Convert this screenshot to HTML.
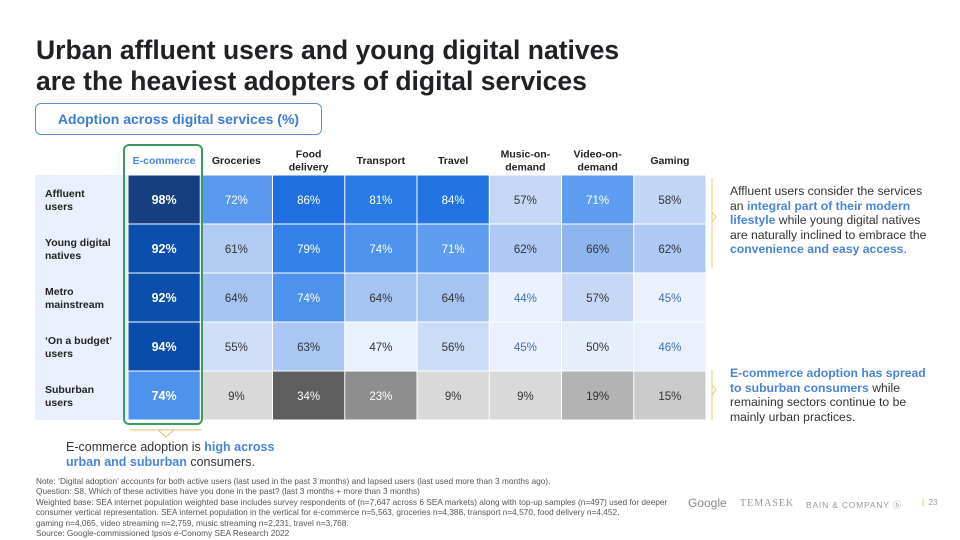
<!DOCTYPE html>
<html><head><meta charset="utf-8">
<style>
body{margin:0;width:960px;height:540px;background:#fff;font-family:"Liberation Sans",sans-serif;position:relative;overflow:hidden;color:#202124}
.t{position:absolute}
h1{position:absolute;left:36px;top:35px;margin:0;font-size:26.5px;line-height:31px;font-weight:bold;color:#202124;letter-spacing:0px}
.sub{position:absolute;left:35px;top:103px;width:287px;height:32px;border:1px solid #5b8fd6;border-radius:6px;box-sizing:border-box;color:#3d7ad6;font-weight:bold;font-size:14px;line-height:30px;text-align:center}
.note{position:absolute;left:36px;top:476px;font-size:8.3px;line-height:10.4px;color:#555;white-space:nowrap}
.side{position:absolute;left:730px;font-size:12.2px;line-height:14.6px;color:#333;width:205px}
.b{color:#4a84d8;font-weight:bold}
</style></head><body>
<h1>Urban affluent users and young digital natives<br>are the heaviest adopters of digital services</h1>
<div class="sub">Adoption across digital services (%)</div>
<svg id="chart" width="960" height="540" style="position:absolute;left:0;top:0"></svg>
<div class="side" style="top:184px">Affluent users consider the services an <span class="b">integral part of their modern lifestyle</span> while young digital natives are naturally inclined to embrace the <span class="b">convenience and easy access</span>.</div>
<div class="side" style="top:366px"><span class="b">E-commerce adoption has spread to suburban consumers</span> while remaining sectors continue to be mainly urban practices.</div>
<div class="t" style="left:66px;top:440px;font-size:12.5px;line-height:15px;color:#333">E-commerce adoption is <span class="b">high across<br>urban and suburban</span> consumers.</div>
<div class="note">Note: ‘Digital adoption’ accounts for both active users (last used in the past 3 months) and lapsed users (last used more than 3 months ago).<br>Question: S8. Which of these activities have you done in the past? (last 3 months + more than 3 months)<br>Weighted base: SEA internet population weighted base includes survey respondents of (n=7,647 across 6 SEA markets) along with top-up samples (n=497) used for deeper<br>consumer vertical representation. SEA internet population in the vertical for e-commerce n=5,563, groceries n=4,388, transport n=4,570, food delivery n=4,452,<br>gaming n=4,065, video streaming n=2,759, music streaming n=2,231, travel n=3,768.<br>Source: Google-commissioned Ipsos e-Conomy SEA Research 2022</div>
<div class="t" style="left:688px;top:496px;font-size:12px;color:#888">Google</div>
<div class="t" style="left:740px;top:498px;font-size:10px;color:#999;font-family:'Liberation Serif',serif;letter-spacing:1px">TEMASEK</div>
<div class="t" style="left:806px;top:499px;font-size:8.5px;color:#999;letter-spacing:0.8px">BAIN &amp; COMPANY ⓑ</div>
<div class="t" style="left:922px;top:498px;font-size:8px;color:#999"><span style="color:#e0b400">|</span>&nbsp; 23</div>
<script>
const categories=["E-commerce","Groceries","Food\ndelivery","Transport","Travel","Music-on-\ndemand","Video-on-\ndemand","Gaming"];
const segments=["Affluent\nusers","Young digital\nnatives","Metro\nmainstream","‘On a budget’\nusers","Suburban\nusers"];
const affluent=[98,72,86,81,84,57,71,58];
const youngNatives=[92,61,79,74,71,62,66,62];
const metroMainstream=[92,64,74,64,64,44,57,45];
const onABudget=[94,55,63,47,56,45,50,46];
const suburban=[74,9,34,23,9,9,19,15];
const series=[affluent,youngNatives,metroMainstream,onABudget,suburban];

const NS="http://www.w3.org/2000/svg";
const svg=document.getElementById('chart');
const X0=128,CW=72.25,Y0=175,RH=49;
const xPos=i=>X0+i*CW, yPos=r=>Y0+r*RH;
const blueStops=[[40,[238,243,252]],[50,[230,238,251]],[56,[203,220,247]],[60,[182,205,243]],[64,[166,196,242]],[66,[143,181,238]],[71,[94,157,240]],[74,[77,146,236]],[81,[42,123,230]],[86,[31,111,224]],[92,[11,79,173]],[94,[10,76,171]],[98,[22,63,130]]];
const greyStops=[[0,[222,222,222]],[9,[217,217,217]],[15,[203,203,203]],[19,[179,179,179]],[23,[142,142,142]],[34,[94,94,94]],[60,[60,60,60]]];
function interp(st,v){if(v<=st[0][0])return st[0][1];for(let i=1;i<st.length;i++){if(v<=st[i][0]){const a=st[i-1],b=st[i],t=(v-a[0])/(b[0]-a[0]);return a[1].map((c,k)=>Math.round(c+(b[1][k]-c)*t));}}return st[st.length-1][1];}
function mk(tag,attrs){const e=document.createElementNS(NS,tag);for(const k in attrs)e.setAttribute(k,attrs[k]);svg.appendChild(e);return e;}
function txt(x,y,s,size,fill,weight,anchor){const lines=s.split("\n");const t=mk('text',{x:x,y:y-(lines.length-1)*6.5,'font-size':size,fill:fill,'font-weight':weight,'text-anchor':anchor,'font-family':'Liberation Sans, sans-serif'});lines.forEach((l,i)=>{const ts=document.createElementNS(NS,'tspan');ts.setAttribute('x',x);ts.setAttribute('dy',i?13:0);ts.textContent=l;t.appendChild(ts);});return t;}

const bg=mk('rect',{x:35,y:Y0,width:X0-35,height:RH*segments.length,fill:'#e9f0fb'});



categories.forEach((c,i)=>{
  const t=txt(xPos(i)+CW/2,164,c,10.5,i===0?'#4a84d8':'#222','bold','middle');
  
  
});
segments.forEach((s,r)=>{
  const t=txt(45,yPos(r)+RH/2+4,s,10.5,'#222','bold','start');
  
  
});
series.forEach((vals,r)=>{
  vals.forEach((v,i)=>{
    const grey=(r===4&&i>0);
    const c=interp(grey?greyStops:blueStops,v);
    const rect=mk('rect',{x:xPos(i)+0.5,y:yPos(r)+0.5,width:CW-1,height:RH-1,fill:`rgb(${c})`});
    
    
    let tc;
    if(grey)tc=v>=20?'#fff':'#333';
    else tc=v>=70?'#fff':(v<=46?'#3f6fae':'#333');
    const t=txt(xPos(i)+CW/2,yPos(r)+RH/2+4.5,v+'%',i===0?12.5:11.5,tc,i===0?'bold':'normal','middle');
    
    
  });
});
const hl=mk('rect',{x:124,y:145,width:78,height:279,rx:5,fill:'none',stroke:'#3c9a60','stroke-width':2});


const p1=mk('path',{d:'M130 430 H202 M158 430 L166 437 L174 430',fill:'none',stroke:'#d9c96a','stroke-width':1});


const b1=mk('path',{d:'M712 178 V268 M712 212 L716 217 L712 222',fill:'none',stroke:'#e3cf6a','stroke-width':1});


const b2=mk('path',{d:'M712 370 V420 M712 385 L716 390 L712 395',fill:'none',stroke:'#e3cf6a','stroke-width':1});


</script>
</body></html>
